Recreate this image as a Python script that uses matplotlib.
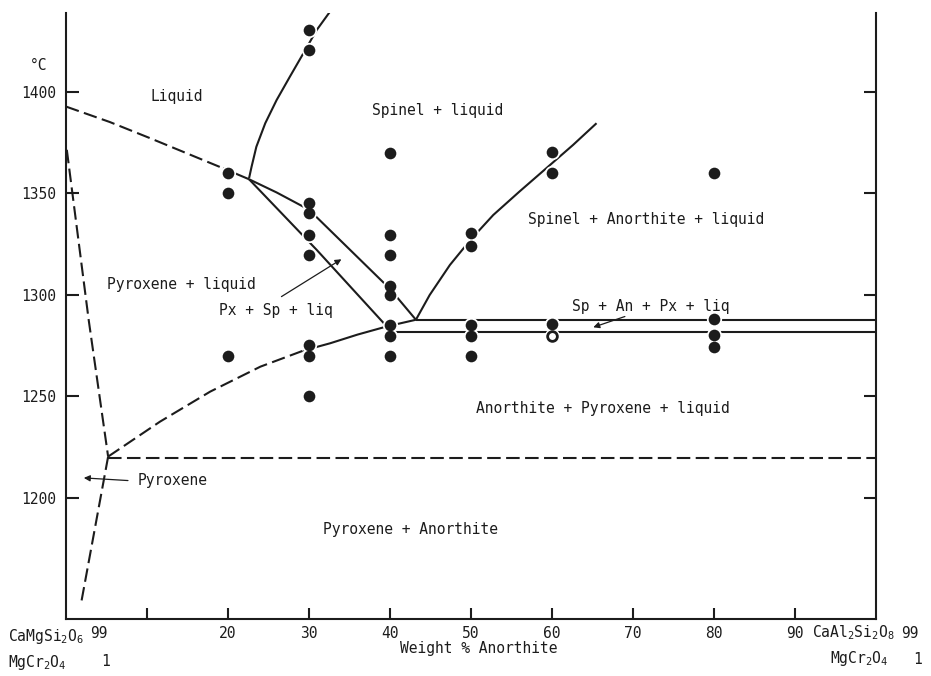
import matplotlib
matplotlib.use('Agg')
import matplotlib.pyplot as plt

plt.rcParams['font.family'] = ['DejaVu Sans Mono', 'DejaVu Sans']
plt.rcParams['mathtext.fontset'] = 'custom'
plt.rcParams['mathtext.rm'] = 'DejaVu Sans Mono'
plt.rcParams['mathtext.it'] = 'DejaVu Sans Mono'

ink = '#1c1c1c'

# boundary curves, weight % anorthite vs temperature (deg C)
px_liq_dash_x = [0, 5.4, 10.4, 19.4]
px_liq_dash_t = [1392.8, 1385.2, 1377.2, 1362.4]
px_liq_solid_x = [19.4, 22.6]
px_liq_solid_t = [1362.4, 1357]

sp_liq_x = [22.6, 22.9, 23.5, 24.6, 26.0, 27.65, 29.3, 30.95, 32.6, 33.5]
sp_liq_t = [1357.5, 1363, 1373, 1384.6, 1396, 1407.6, 1419, 1430.5, 1439.6, 1444]

pxsp_upper_x = [22.6, 26, 30, 35, 40, 43.2]
pxsp_upper_t = [1357, 1350.5, 1342, 1322.5, 1303, 1287.8]
pxsp_lower_x = [22.6, 31, 39.6]
pxsp_lower_t = [1357, 1322, 1284.5]
short_x = [39.6, 43.2]
short_t = [1284.5, 1287.8]

an_px_dash_x = [5.2, 11.6, 17.8, 24.0, 29.3]
an_px_dash_t = [1220.4, 1237.6, 1252.4, 1264.7, 1272.6]
an_px_solid_x = [29.3, 32.6, 36, 39.6]
an_px_solid_t = [1272.6, 1276.2, 1280.5, 1284.5]

sp_an_x = [43.2, 44.9, 47.4, 49.9, 52.75, 56.0, 59.75, 62.6, 65.5]
sp_an_t = [1287.8, 1300, 1314.8, 1327, 1339.4, 1351, 1364, 1373.9, 1384.6]

upper_flat_x = [43.2, 100]
upper_flat_t = [1287.8, 1287.8]
lower_flat_x = [39.6, 100]
lower_flat_t = [1282, 1282]

solidus_x = [5.2, 100]
solidus_t = [1219.8, 1219.8]

px_left_x = [0.1, 2.8, 5.2]
px_left_t = [1371.5, 1287.7, 1220.4]
px_low_x = [5.2, 1.9]
px_low_t = [1220.4, 1149]

# experiments
dots_x = [20, 20, 20,
          30, 30, 30, 30, 30, 30, 30, 30, 30,
          40, 40, 40, 40, 40, 40, 40, 40,
          50, 50, 50, 50, 50,
          60, 60, 60,
          80, 80, 80, 80]
dots_t = [1360, 1350, 1270,
          1430.5, 1420.5, 1345.5, 1340.3, 1329.6, 1319.7, 1275.4, 1270, 1250,
          1370, 1329.6, 1319.7, 1304.5, 1300, 1285.2, 1279.6, 1270,
          1330.3, 1324, 1285, 1280, 1270,
          1370.3, 1360, 1285.7,
          1360, 1288.2, 1280.3, 1274.6]
open_x = [60]
open_t = [1280]

xticks = [10, 20, 30, 40, 50, 60, 70, 80, 90]
xtick_labels = ['', '20', '30', '40', '50', '60', '70', '80', '90']
yticks = [1200, 1250, 1300, 1350, 1400]

fig = plt.figure(figsize=(9.31, 6.76), dpi=100)
ax = fig.add_axes([0.0709, 0.0843, 0.8700, 0.8965])

solid = dict(color=ink, lw=1.5, solid_capstyle='butt', solid_joinstyle='round', zorder=2)
dash = dict(color=ink, lw=1.5, dashes=(6.5, 2.6), zorder=2)

ax.plot(px_liq_dash_x, px_liq_dash_t, **dash)
ax.plot(px_liq_solid_x, px_liq_solid_t, **solid)
ax.plot(sp_liq_x, sp_liq_t, **solid)
ax.plot(pxsp_upper_x, pxsp_upper_t, **solid)
ax.plot(pxsp_lower_x, pxsp_lower_t, **solid)
ax.plot(short_x, short_t, **solid)
ax.plot(an_px_dash_x, an_px_dash_t, **dash)
ax.plot(an_px_solid_x, an_px_solid_t, **solid)
ax.plot(sp_an_x, sp_an_t, **solid)
ax.plot(upper_flat_x, upper_flat_t, **solid)
ax.plot(lower_flat_x, lower_flat_t, **solid)
ax.plot(solidus_x, solidus_t, **dash)
ax.plot(px_left_x, px_left_t, **dash)
ax.plot(px_low_x, px_low_t, **dash)

# white halo first so lines break round the dots, then the dots
ax.plot(dots_x, dots_t, 'o', ms=11.0, color='white', mew=0, zorder=3)
ax.plot(open_x, open_t, 'o', ms=11.0, color='white', mew=0, zorder=3)
ax.plot(dots_x, dots_t, 'o', ms=8.4, color=ink, mew=0, zorder=4)
ax.plot(open_x, open_t, 'o', ms=7.0, mfc='white', mec=ink, mew=2.0, zorder=4)

ax.set_xlim(0, 100)
ax.set_ylim(1140.4, 1438.9)

fs = 10.5
ax.text(13.7, 1398, 'Liquid', fontsize=fs, color=ink, ha='center', va='center')
ax.text(45.9, 1391, 'Spinel + liquid', fontsize=fs, color=ink, ha='center', va='center')
ax.text(14.3, 1305.4, 'Pyroxene + liquid', fontsize=fs, color=ink, ha='center', va='center')
ax.text(71.6, 1337.4, 'Spinel + Anorthite + liquid', fontsize=fs, color=ink,
        ha='center', va='center')
ax.text(66.3, 1244.3, 'Anorthite + Pyroxene + liquid', fontsize=fs, color=ink,
        ha='center', va='center')
ax.text(42.5, 1184.7, 'Pyroxene + Anorthite', fontsize=fs, color=ink, ha='center', va='center')

arrow = dict(arrowstyle='-|>', color=ink, lw=0.9, mutation_scale=9, shrinkA=0, shrinkB=0)
ax.text(25.9, 1292.6, 'Px + Sp + liq', fontsize=fs, color=ink, ha='center', va='center')
ax.annotate('', xy=(34.0, 1317.6), xytext=(26.6, 1299.2), arrowprops=arrow)
ax.text(72.2, 1294.3, 'Sp + An + Px + liq', fontsize=fs, color=ink, ha='center', va='center')
ax.annotate('', xy=(65.1, 1284.1), xytext=(69.0, 1289.4), arrowprops=arrow)
ax.text(8.8, 1208.6, 'Pyroxene', fontsize=fs, color=ink, ha='left', va='center')
ax.annotate('', xy=(2.2, 1209.9), xytext=(7.65, 1208.6), arrowprops=arrow)

ax.text(-3.4, 1413, '°C', fontsize=fs, color=ink, ha='center', va='center', clip_on=False)

ax.spines['top'].set_visible(False)
for s in ['left', 'right', 'bottom']:
    ax.spines[s].set_linewidth(1.5)
    ax.spines[s].set_color(ink)

ax.set_xticks(xticks)
ax.set_xticklabels(xtick_labels)
ax.set_yticks(yticks)
ax.tick_params(axis='x', direction='in', length=8, width=1.5, color=ink, labelsize=10.5,
               labelcolor=ink, pad=5)
ax.tick_params(axis='y', direction='in', length=9, width=1.5, color=ink, labelsize=10.5,
               labelcolor=ink, pad=7, right=True)

# end-member labels under the axis
fig.text(8 / 931, 1 - 637 / 676, r'CaMgSi$_2$O$_6$', fontsize=fs, color=ink, ha='left', va='center')
fig.text(99 / 931, 1 - 633 / 676, '99', fontsize=fs, color=ink, ha='center', va='center')
fig.text(8 / 931, 1 - 662 / 676, r'MgCr$_2$O$_4$', fontsize=fs, color=ink, ha='left', va='center')
fig.text(106 / 931, 1 - 662 / 676, '1', fontsize=fs, color=ink, ha='center', va='center')
fig.text(812 / 931, 1 - 633 / 676, r'CaAl$_2$Si$_2$O$_8$', fontsize=fs, color=ink,
         ha='left', va='center')
fig.text(910 / 931, 1 - 633 / 676, '99', fontsize=fs, color=ink, ha='center', va='center')
fig.text(830 / 931, 1 - 659 / 676, r'MgCr$_2$O$_4$', fontsize=fs, color=ink, ha='left', va='center')
fig.text(918 / 931, 1 - 659 / 676, '1', fontsize=fs, color=ink, ha='center', va='center')
fig.text(479 / 931, 1 - 648 / 676, 'Weight % Anorthite', fontsize=fs, color=ink,
         ha='center', va='center')

fig.savefig('out.png', dpi=100, facecolor='white')
